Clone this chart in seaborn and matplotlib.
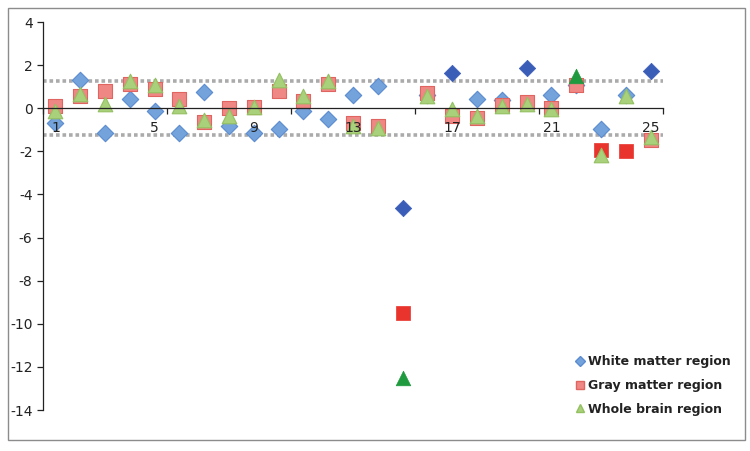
import numpy as np
import pandas as pd
import matplotlib
matplotlib.use("Agg")
import matplotlib.pyplot as plt
import seaborn as sns
from matplotlib.patches import Rectangle
from matplotlib.lines import Line2D

# subject index and z-scores
subjects = list(range(1, 26))
white = [-0.68, 1.29, -1.15, 0.43, -0.15, -1.15, 0.73, -0.81, -1.15, -0.97,
         -0.12, -0.50, 0.62, 1.01, -4.65, 0.60, 1.63, 0.43, 0.40, 1.86,
         0.62, 1.10, -0.96, 0.60, 1.72]
gray = [0.10, 0.55, 0.78, 1.12, 0.89, 0.45, -0.66, 0.03, 0.05, 0.78,
        0.32, 1.12, -0.68, -0.84, -9.50, 0.70, -0.38, -0.45, 0.16, 0.27,
        0.01, 1.09, -1.92, -2.00, -1.46]
whole = [-0.12, 0.68, 0.21, 1.24, 1.07, 0.10, -0.53, -0.36, 0.05, 1.30,
         0.58, 1.24, -0.81, -0.90, -12.50, 0.58, -0.05, -0.35, 0.10, 0.21,
         -0.05, 1.50, -2.15, 0.58, -1.35]
# subjects drawn in the darker colour
white_hi = [15, 17, 20, 25]
gray_hi = [15, 23, 24]
whole_hi = [15, 22]
threshold = 1.26

sns.set_style("white")
plt.rcParams["axes.unicode_minus"] = False

fig = plt.figure(figsize=(7.5, 4.51), dpi=100)
ax = fig.add_axes([43 / 750, 1 - 410 / 451, (663 - 43) / 750, (410 - 22) / 451])
ax.set_axisbelow(False)

series = [
    ("White matter region", white, white_hi, "D", "#74a3db", "#5b8bd0", "#3a5db8", 70),
    ("Gray matter region", gray, gray_hi, "s", "#ef8784", "#e06460", "#e8342c", 110),
    ("Whole brain region", whole, whole_hi, "^", "#a9d07a", "#93c060", "#1f9a3e", 110),
]

ax.axhline(threshold, color="#ababab", lw=2.6, ls=(0, (1, 0.8)), zorder=1)
ax.axhline(-threshold, color="#ababab", lw=2.6, ls=(0, (1, 0.8)), zorder=1)

handles = []
for i, (name, vals, hi, mk, face, edge, dark, size) in enumerate(series):
    df = pd.DataFrame({"subject": subjects, "z": vals})
    df["hi"] = df["subject"].isin(hi)
    sns.scatterplot(data=df[~df["hi"]], x="subject", y="z", marker=mk, s=size,
                    color=face, edgecolor=edge, linewidth=0.8, ax=ax,
                    zorder=2.1 + 0.1 * i, legend=False)
    sns.scatterplot(data=df[df["hi"]], x="subject", y="z", marker=mk, s=size,
                    color=dark, edgecolor=dark, linewidth=0.5, ax=ax,
                    zorder=2.1 + 0.1 * i, legend=False)
    handles.append(Line2D([], [], ls="none", marker=mk, markersize=6 if mk != "D" else 5,
                          markerfacecolor=face, markeredgecolor=edge, label=name))

ax.set_xlim(0.5, 25.5)
ax.set_ylim(-14, 4)
ax.set_yticks(np.arange(-14, 5, 2))
ax.set_xticks([1, 5, 9, 13, 17, 21, 25])
ax.set_xticks(np.arange(0.5, 26, 5), minor=True)
ax.set_xlabel("")
ax.set_ylabel("")

for s in ["top", "right"]:
    ax.spines[s].set_visible(False)
ax.spines["bottom"].set_position(("data", 0))
ax.spines["bottom"].set_color("#222222")
ax.spines["left"].set_color("#222222")
ax.spines["bottom"].set_linewidth(0.9)
ax.spines["left"].set_linewidth(0.9)
ax.tick_params(axis="x", which="major", bottom=True, length=0, pad=9, labelsize=10,
               labelcolor="#222222")
ax.tick_params(axis="x", which="minor", bottom=True, length=4, width=0.9,
               direction="out", color="#222222")
ax.tick_params(axis="y", left=True, length=4, width=0.9, direction="out", labelsize=10,
               labelcolor="#222222", color="#222222")

leg = fig.legend(handles=handles, loc="upper left", bbox_to_anchor=(562 / 750, 1 - 344 / 451),
                 frameon=False, handletextpad=0.2, labelspacing=0.85, handlelength=1.0,
                 prop={"weight": "bold", "size": 9})
for t in leg.get_texts():
    t.set_color("#222222")

fig.patches.append(Rectangle((8 / 750, 1 - 440 / 451), 737 / 750, 432 / 451,
                             transform=fig.transFigure, fill=False,
                             edgecolor="#8c8c8c", lw=1.0))

fig.savefig("out.png", dpi=100)
